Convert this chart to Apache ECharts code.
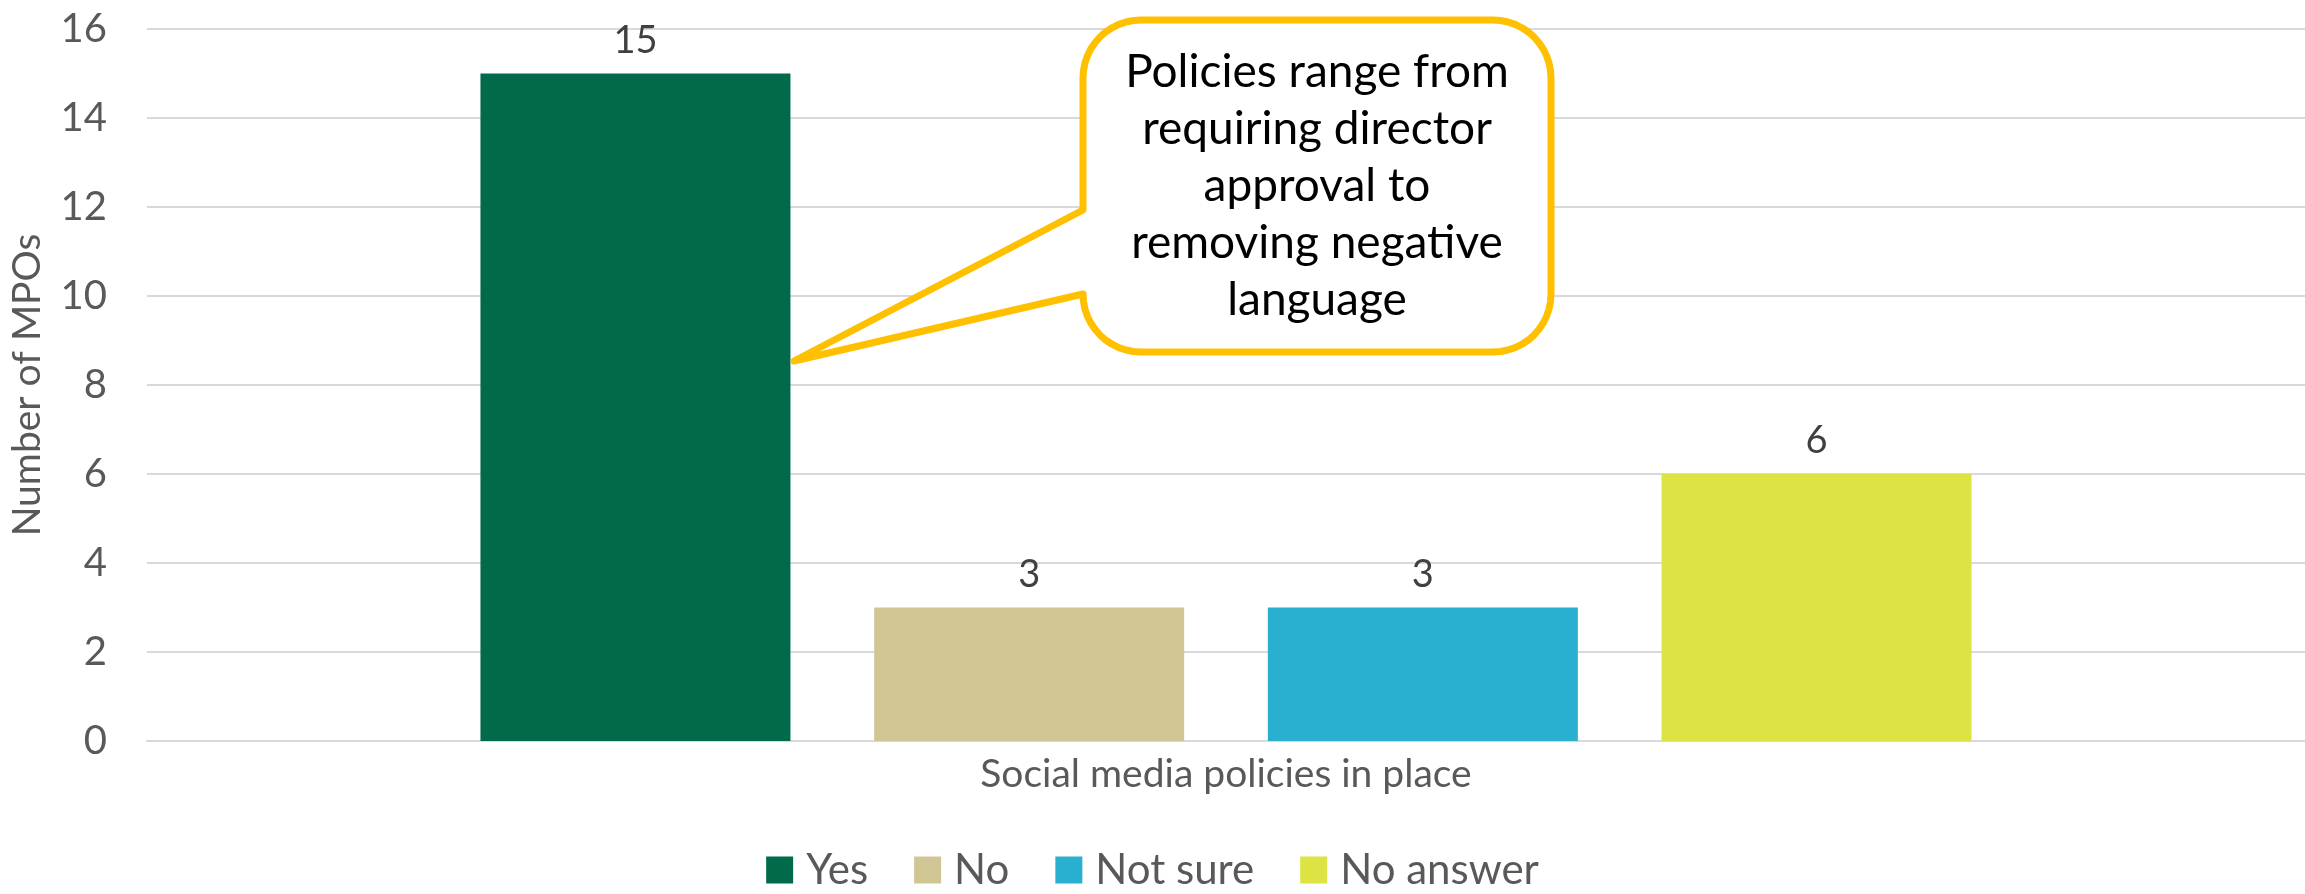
<!DOCTYPE html>
<html>
<head>
<meta charset="utf-8">
<script src="https://cdn.jsdelivr.net/npm/echarts@6/dist/echarts.min.js"></script>
<style>
html,body{margin:0;padding:0;background:#fff;}
#main{width:2305px;height:894px;}
</style>
</head>
<body>
<div id="main"></div>
<script>
const categories = ["Social media policies in place"];
const seriesNames = ["Yes", "No", "Not sure", "No answer"];
const yesValues = [15];
const noValues = [3];
const notSureValues = [3];
const noAnswerValues = [6];
const yTicks = [0, 2, 4, 6, 8, 10, 12, 14, 16];
const calloutText = ["Policies range from", "requiring director", "approval to", "removing negative", "language"];

const colors = ["#006A4A", "#D0C694", "#29AFCF", "#DCE343"];
const valueSets = [yesValues, noValues, notSureValues, noAnswerValues];
const FONT = "Lato, 'Open Sans', sans-serif";

const chart = echarts.init(document.getElementById('main'), null, {renderer: 'canvas'});

const series = seriesNames.map((name, i) => ({
  name: name,
  type: 'bar',
  data: valueSets[i],
  barWidth: 310,
  barGap: '27%',
  itemStyle: {color: colors[i]},
  label: {
    show: true,
    position: 'top',
    distance: 14,
    color: '#404040',
    fontSize: 38,
    fontFamily: FONT
  }
}));

// Callout geometry (annotation shape)
const x0 = 1083, y0 = 20, x1 = 1551, y1 = 352, r = 58;
const tipX = 794, tipY = 361;
function arcPts(cx, cy, a0, a1) {
  const pts = [];
  const n = 12;
  for (let k = 0; k <= n; k++) {
    const a = a0 + (a1 - a0) * k / n;
    pts.push([cx + r * Math.cos(a), cy + r * Math.sin(a)]);
  }
  return pts;
}
const P = Math.PI;
let calloutPts = [];
calloutPts = calloutPts.concat(arcPts(x0 + r, y0 + r, P, 1.5 * P));       // top-left
calloutPts = calloutPts.concat(arcPts(x1 - r, y0 + r, 1.5 * P, 2 * P));   // top-right
calloutPts = calloutPts.concat(arcPts(x1 - r, y1 - r, 0, 0.5 * P));       // bottom-right
calloutPts = calloutPts.concat(arcPts(x0 + r, y1 - r, 0.5 * P, P));       // bottom-left
calloutPts.push([x0, 294], [tipX, tipY], [x0, 210]);

chart.setOption({
  backgroundColor: '#ffffff',
  animation: false,
  grid: {left: 145, right: -14, top: 29, bottom: 153, containLabel: false},
  legend: {
    data: seriesNames,
    left: 'center',
    top: 844,
    icon: 'rect',
    itemWidth: 27,
    itemHeight: 27,
    itemGap: 46,
    textStyle: {color: '#595959', fontSize: 42, fontFamily: FONT, padding: [0, 0, 0, 8]}
  },
  xAxis: {
    type: 'category',
    data: categories,
    axisLine: {show: true, lineStyle: {color: '#D9D9D9', width: 2}},
    axisTick: {show: false},
    axisLabel: {color: '#595959', fontSize: 39, fontFamily: FONT, margin: 14}
  },
  yAxis: {
    type: 'value',
    min: yTicks[0],
    max: yTicks[yTicks.length - 1],
    interval: yTicks[1] - yTicks[0],
    name: 'Number of MPOs',
    nameLocation: 'middle',
    nameGap: 100,
    nameTextStyle: {color: '#595959', fontSize: 39, fontFamily: FONT},
    axisLine: {show: false},
    axisTick: {show: false},
    axisLabel: {color: '#595959', fontSize: 40, fontFamily: FONT, margin: 40},
    splitLine: {lineStyle: {color: '#D9D9D9', width: 2}}
  },
  series: series,
  graphic: [
    {
      type: 'polygon',
      z: 100,
      shape: {points: calloutPts},
      style: {fill: '#ffffff', stroke: '#FFC000', lineWidth: 7, lineJoin: 'round'}
    },
    {
      type: 'text',
      z: 101,
      x: (x0 + x1) / 2,
      y: (y0 + y1) / 2,
      style: {
        text: calloutText.join('\n'),
        fill: '#000000',
        font: `46px ${FONT}`,
        textAlign: 'center',
        textVerticalAlign: 'middle',
        lineHeight: 57
      }
    }
  ]
});
</script>
</body>
</html>
